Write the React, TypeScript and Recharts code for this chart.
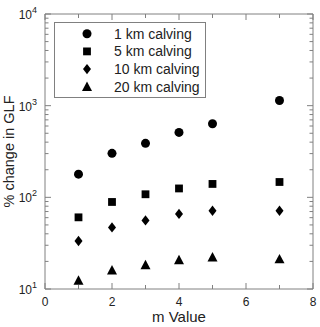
import React from 'react';
import { ScatterChart, Scatter, XAxis, YAxis, ReferenceArea, Legend } from 'recharts';

// m values and % change in GLF for each calving distance
const mValues = [1, 2, 3, 4, 5, 7];
const calving1km = [179, 302, 388, 511, 635, 1140];
const calving5km = [60.5, 89, 108, 125, 140, 147];
const calving10km = [33.4, 47, 56, 66, 71.5, 71.5];
const calving20km = [12.4, 16, 18.3, 20.7, 22.2, 21.2];
const seriesNames = ['1 km calving', '5 km calving', '10 km calving', '20 km calving'];

const xTicks = [0, 1, 2, 3, 4, 5, 6, 7, 8];
const xLabelTicks = [0, 2, 4, 6, 8];
const yTicks = [
  10, 20, 30, 40, 50, 60, 70, 80, 90,
  100, 200, 300, 400, 500, 600, 700, 800, 900,
  1000, 2000, 3000, 4000, 5000, 6000, 7000, 8000, 9000,
  10000,
];
const yMajor = [10, 100, 1000, 10000];

const W = 320;
const H = 327;
const LEFT = 45;
const RIGHT = 313;
const TOP = 14;
const BOTTOM = 289;
const PLOT_W = RIGHT - LEFT;
const PLOT_H = BOTTOM - TOP;
const AXIS = '#808080';
const TEXT = '#222';
const FONT = '"Liberation Sans", Arial, Helvetica, sans-serif';

const toPoints = (ys: number[]) => mValues.map((m, i) => ({ m, v: ys[i] }));

const Circle = ({ cx, cy }: any) => <circle cx={cx} cy={cy} r={4.5} fill="#000" />;
const Square = ({ cx, cy }: any) => <rect x={cx - 3.9} y={cy - 3.9} width={7.8} height={7.8} fill="#000" />;
const Diamond = ({ cx, cy }: any) => (
  <polygon points={`${cx},${cy - 5.2} ${cx + 4},${cy} ${cx},${cy + 5.2} ${cx - 4},${cy}`} fill="#000" />
);
const Triangle = ({ cx, cy }: any) => (
  <polygon points={`${cx},${cy - 5.2} ${cx + 5},${cy + 4.2} ${cx - 5},${cy + 4.2}`} fill="#000" />
);
const shapes = [Circle, Square, Diamond, Triangle];

const YTick = ({ x, y, payload }: any) => {
  const v = payload.value;
  const major = yMajor.includes(v);
  const len = major ? 6 : 3.5;
  return (
    <g>
      <line x1={x} x2={x + len} y1={y} y2={y} stroke={AXIS} />
      <line x1={x + PLOT_W} x2={x + PLOT_W - len} y1={y} y2={y} stroke={AXIS} />
      {major && (
        <text x={x - 8} y={y + 5} textAnchor="end" fontSize={12} fill={TEXT} fontFamily={FONT}>
          <tspan>10</tspan>
          <tspan dy={-6} fontSize={9}>{Math.round(Math.log10(v))}</tspan>
        </text>
      )}
    </g>
  );
};

const XTick = ({ x, y, payload }: any) => {
  const v = payload.value;
  const major = xLabelTicks.includes(v);
  const len = major ? 6 : 4;
  return (
    <g>
      <line x1={x} x2={x} y1={y} y2={y - len} stroke={AXIS} />
      <line x1={x} x2={x} y1={y - PLOT_H} y2={y - PLOT_H + len} stroke={AXIS} />
      {major && (
        <text x={x} y={y + 17} textAnchor="middle" fontSize={12} fill={TEXT} fontFamily={FONT}>
          {v}
        </text>
      )}
    </g>
  );
};

const LegendBox = () => (
  <svg width={152} height={77} style={{ display: 'block' }}>
    <rect x={0.5} y={0.5} width={151} height={75} fill="#fff" stroke={AXIS} />
    {seriesNames.map((name, i) => {
      const Shape = shapes[i];
      const cy = 11.7 + i * 17.7;
      return (
        <g key={name}>
          <Shape cx={33} cy={cy} />
          <text x={60} y={cy + 5} fontSize={14} fill={TEXT} fontFamily={FONT}>
            {name}
          </text>
        </g>
      );
    })}
  </svg>
);

const App: React.FC = () => {
  const series = [calving1km, calving5km, calving10km, calving20km];
  return (
    <div style={{ position: 'absolute', left: 0, top: 0, width: W, height: H, background: '#fff' }}>
      <ScatterChart width={W} height={H} margin={{ top: TOP, right: W - RIGHT, bottom: 0, left: 0 }}>
        <XAxis
          type="number"
          dataKey="m"
          domain={[0, 8]}
          ticks={xTicks}
          interval={0}
          height={H - BOTTOM}
          axisLine={false}
          tickLine={false}
          tickSize={0}
          tickMargin={0}
          tick={<XTick />}
          label={{
            content: () => (
              <text x={LEFT + PLOT_W / 2} y={H - 5} textAnchor="middle" fontSize={15} fill={TEXT} fontFamily={FONT}>
                m Value
              </text>
            ),
          }}
        />
        <YAxis
          type="number"
          dataKey="v"
          scale="log"
          domain={[10, 10000]}
          ticks={yTicks}
          interval={0}
          width={LEFT}
          allowDataOverflow
          axisLine={false}
          tickLine={false}
          tickSize={0}
          tickMargin={0}
          tick={<YTick />}
          label={{
            content: () => (
              <text
                x={0}
                y={0}
                transform={`translate(13.5, ${(TOP + BOTTOM) / 2}) rotate(-90)`}
                textAnchor="middle"
                fontSize={14.5}
                fill={TEXT}
                fontFamily={FONT}
              >
                % change in GLF
              </text>
            ),
          }}
        />
        <ReferenceArea x1={0} x2={8} y1={10} y2={10000} fill="none" stroke={AXIS} strokeWidth={1} />
        {series.map((ys, i) => (
          <Scatter
            key={seriesNames[i]}
            name={seriesNames[i]}
            data={toPoints(ys)}
            shape={shapes[i]}
            isAnimationActive={false}
          />
        ))}
        <Legend
          layout="vertical"
          align="center"
          verticalAlign="middle"
          wrapperStyle={{ left: 54, top: 22, width: 152, height: 77 }}
          content={() => <LegendBox />}
        />
      </ScatterChart>
    </div>
  );
};

export default App;
